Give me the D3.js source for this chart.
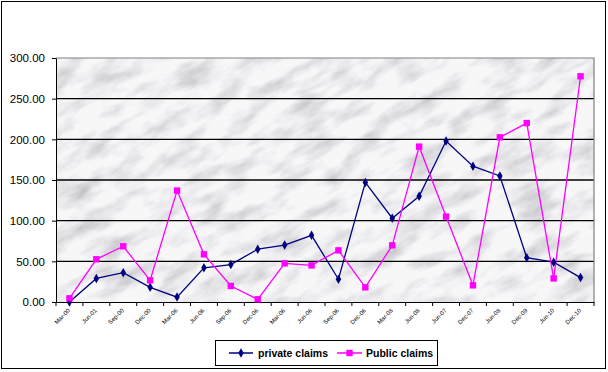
<!DOCTYPE html>
<html><head><meta charset="utf-8">
<script src="https://cdn.jsdelivr.net/npm/d3@7"></script>
<style>body{margin:0;background:#fff}svg{display:block}</style>
</head><body>
<script>
const categories = ["Mar-00","Jun-01","Sep-00","Dec-00","Mar-06","Jun-06","Sep-06","Dec-06","Mar-06","Jun-06","Sep-06","Dec-06","Mar-08","Jun-08","Jun-07","Dec-07","Jun-08","Dec-09","Jun-10","Dec-10"];
const privateClaims = [0,29,36,18,6,42,46,65,70,82,28,147,103,130,198,167,155,54.5,49,30];
const publicClaims = [4.5,52.5,68.5,26.7,137,58.6,19.7,3.3,47.5,45,63.5,18,69.7,191,105,20.5,202.5,220,29,277.5];
const yTicks = [0,50,100,150,200,250,300];
const seriesNames = ["private claims","Public claims"];

const W=608,H=372;
const m={left:56,right:594,top:58,bottom:302};
const svg=d3.select("body").append("svg").attr("width",W).attr("height",H);

svg.append("rect").attr("x",1.5).attr("y",1.5).attr("width",W-4).attr("height",H-5)
  .attr("fill","#fff").attr("stroke","#000").attr("stroke-width",1);

const defs=svg.append("defs");
const f=defs.append("filter").attr("id","marble").attr("x",0).attr("y",0).attr("width","100%").attr("height","100%");
f.append("feTurbulence").attr("type","fractalNoise").attr("baseFrequency","0.025 0.06").attr("numOctaves",5).attr("seed",11).attr("result","n");
f.append("feColorMatrix").attr("in","n").attr("type","matrix")
  .attr("values","1.2 0 0 0 0.3  1.2 0 0 0 0.3  1.2 0 0 0 0.33  0 0 0 0 1");
defs.append("clipPath").attr("id","pc").append("rect")
  .attr("x",m.left).attr("y",m.top).attr("width",m.right-m.left).attr("height",m.bottom-m.top);

const bg=svg.append("g").attr("clip-path","url(#pc)");
bg.append("rect").attr("x",m.left).attr("y",m.top).attr("width",m.right-m.left).attr("height",m.bottom-m.top).attr("fill","#ebebed");
bg.append("g").attr("transform",`rotate(-28 ${(m.left+m.right)/2} ${(m.top+m.bottom)/2})`)
  .append("rect").attr("x",m.left-150).attr("y",m.top-200).attr("width",m.right-m.left+300).attr("height",m.bottom-m.top+400)
  .attr("filter","url(#marble)").attr("opacity",0.6);

const x=d3.scaleBand().domain(d3.range(categories.length)).range([m.left,m.right]);
const y=d3.scaleLinear().domain([0,300]).range([m.bottom,m.top]);
const cx=i=>x(i)+x.bandwidth()/2;

svg.append("g").selectAll("line").data(yTicks.filter(t=>t>0&&t<300)).join("line")
  .attr("x1",m.left).attr("x2",m.right).attr("y1",d=>y(d)).attr("y2",d=>y(d))
  .attr("stroke","#000").attr("stroke-width",1.3);
svg.append("path").attr("d",`M${m.left},${m.top}H${m.right}V${m.bottom}`).attr("fill","none").attr("stroke","#808080").attr("stroke-width",1.2);

const ya=svg.append("g").attr("transform",`translate(${m.left},0)`)
  .call(d3.axisLeft(y).tickValues(yTicks).tickFormat(d3.format(".2f")).tickSize(4).tickSizeOuter(0));
ya.select(".domain").attr("stroke","#000");
ya.selectAll("text").attr("font-family","Arial, 'Liberation Sans', sans-serif").attr("font-size",11.5).attr("fill","#000").attr("dx",-4);

const xa=svg.append("g").attr("transform",`translate(0,${m.bottom})`)
  .call(d3.axisBottom(x).tickFormat(()=>"").tickSize(0));
xa.select(".domain").attr("stroke","#000");
svg.append("g").selectAll("line").data(d3.range(categories.length+1)).join("line")
  .attr("x1",i=>m.left+i*x.step()).attr("x2",i=>m.left+i*x.step())
  .attr("y1",m.bottom).attr("y2",m.bottom+4).attr("stroke","#000");
svg.append("g").selectAll("text").data(categories).join("text")
  .attr("transform",(d,i)=>`translate(${cx(i)+1},${m.bottom+9}) rotate(-45)`)
  .attr("text-anchor","end").attr("font-family","Arial, 'Liberation Sans', sans-serif")
  .attr("font-size",6).attr("fill","#000").text(d=>d);

const line=d3.line().x((d,i)=>cx(i)).y(d=>y(d));
svg.append("path").datum(privateClaims).attr("d",line).attr("fill","none").attr("stroke","#000080").attr("stroke-width",1.3);
svg.append("path").datum(publicClaims).attr("d",line).attr("fill","none").attr("stroke","#ff00ff").attr("stroke-width",1.3);
svg.append("g").selectAll("path").data(privateClaims).join("path")
  .attr("d",d3.symbol(d3.symbolDiamond,26)()).attr("transform",(d,i)=>`translate(${cx(i)},${y(d)})`).attr("fill","#000080");
svg.append("g").selectAll("rect").data(publicClaims).join("rect")
  .attr("x",(d,i)=>cx(i)-3.2).attr("y",d=>y(d)-3.2).attr("width",6.4).attr("height",6.4).attr("fill","#ff00ff");

const lg=svg.append("g");
lg.append("rect").attr("x",215.5).attr("y",340.5).attr("width",222).attr("height",25).attr("fill","#fff").attr("stroke","#000");
const items=[{c:"#000080",x1:229,x2:253,tx:258,sym:"d"},{c:"#ff00ff",x1:337,x2:362,tx:366,sym:"s"}];
items.forEach((it,k)=>{
  lg.append("line").attr("x1",it.x1).attr("x2",it.x2).attr("y1",353).attr("y2",353).attr("stroke",it.c).attr("stroke-width",1.5);
  const mx=(it.x1+it.x2)/2;
  if(it.sym==="d") lg.append("path").attr("d",d3.symbol(d3.symbolDiamond,26)()).attr("transform",`translate(${mx},353)`).attr("fill",it.c);
  else lg.append("rect").attr("x",mx-3.2).attr("y",349.8).attr("width",6.4).attr("height",6.4).attr("fill",it.c);
  lg.append("text").attr("x",it.tx).attr("y",357).attr("font-family","Arial, 'Liberation Sans', sans-serif")
    .attr("font-size",10.5).attr("font-weight","bold").attr("fill","#000").text(seriesNames[k]);
});
</script>
</body></html>
